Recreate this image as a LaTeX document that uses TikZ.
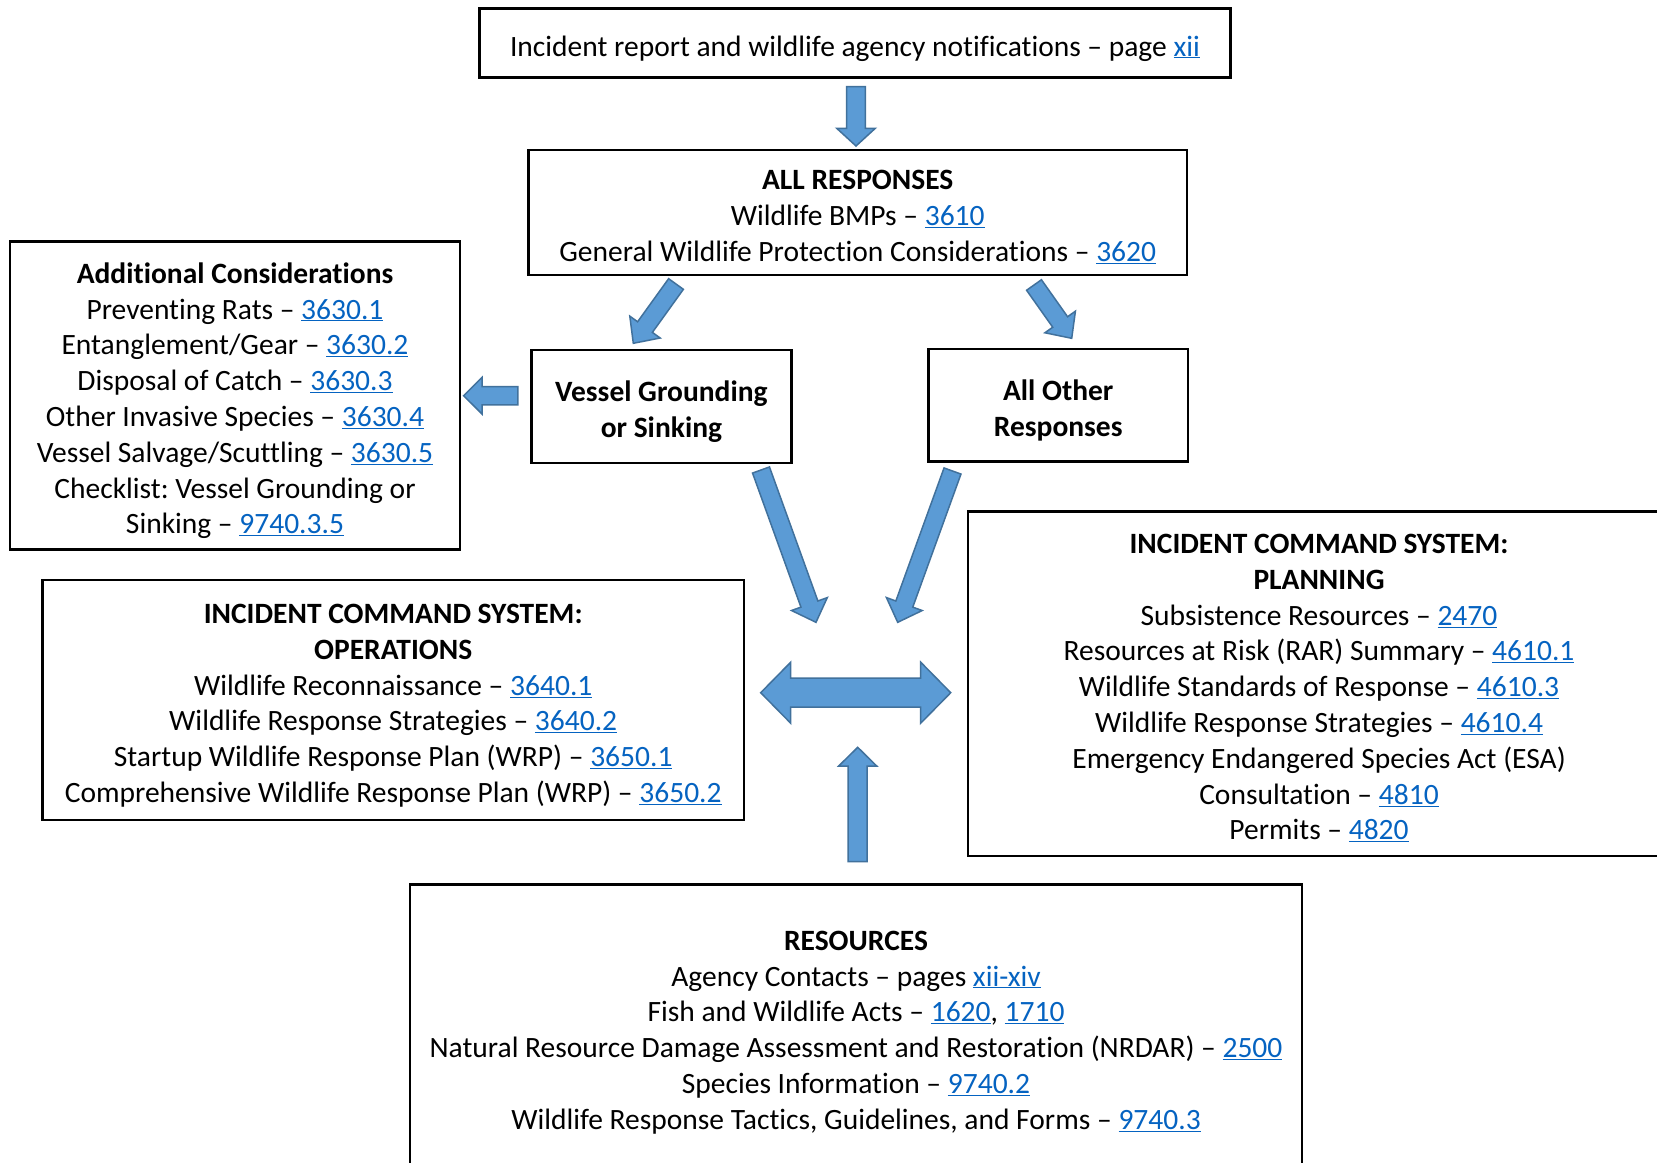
\documentclass[tikz,border=0pt]{standalone}
\usepackage{fontspec}
\setmainfont{Carlito}[Ligatures=NoCommon]
\usetikzlibrary{calc}
\definecolor{arrowfill}{HTML}{5B9BD5}
\definecolor{arrowline}{HTML}{41719C}
\definecolor{linkc}{HTML}{0563C1}
\frenchspacing
\newcommand\lnk[1]{\textcolor{linkc}{\underline{#1}}}
\newcommand\topstrut{\rule{0pt}{34pt}}
\newcommand\botstrut{\rule[-8pt]{0pt}{8pt}}
% block arrow: tail, tip, shaft half width, head half width, head length
\newcommand\barrow[5]{%
  \coordinate (hb) at ($(#2)!#5!(#1)$);
  \draw[blockarrow] ($(#1)!#3!90:(#2)$) -- ($(hb)!#3!90:(#2)$) -- ($(hb)!#4!90:(#2)$) -- (#2)
    -- ($(hb)!#4!-90:(#2)$) -- ($(hb)!#3!-90:(#2)$) -- ($(#1)!#3!-90:(#2)$) -- cycle;}
% double block arrow: end1, end2, shaft half width, head half width, head length
\newcommand\dblarrow[5]{%
  \coordinate (ha) at ($(#1)!#5!(#2)$);
  \coordinate (hb) at ($(#2)!#5!(#1)$);
  \draw[blockarrow] (#1) -- ($(ha)!#4!90:(#2)$) -- ($(ha)!#3!90:(#2)$) -- ($(hb)!#3!-90:(#1)$)
    -- ($(hb)!#4!-90:(#1)$) -- (#2) -- ($(hb)!#4!90:(#1)$) -- ($(hb)!#3!90:(#1)$)
    -- ($(ha)!#3!-90:(#2)$) -- ($(ha)!#4!-90:(#2)$) -- cycle;}
\begin{document}
\begin{tikzpicture}[x=1pt,y=-1pt,
  box/.style={draw=black, line width=2.5pt, align=center, inner sep=0pt,
    font=\fontsize{29.5}{35.8}\selectfont},
  blockarrow/.style={fill=arrowfill, draw=arrowline, line width=1.5pt, line join=miter}]
\useasboundingbox (0,0) rectangle (1657,1162);
\clip (0,0) rectangle (1657,1162);
\fill[white] (0,0) rectangle (1657,1162);

\node[box, minimum width=751pt, minimum height=69.4pt] (report) at (855,43)
  {\topstrut Incident report and wildlife agency notifications – page \lnk{xii}\botstrut};

\node[box, minimum width=658.5pt, minimum height=125pt] (allresp) at (857.7,212.5)
  {\topstrut\textbf{ALL RESPONSES}\\Wildlife BMPs – \lnk{3610}\\General Wildlife Protection Considerations – \lnk{3620}\botstrut};

\node[box, minimum width=450pt, minimum height=307.6pt] (addl) at (235,395.5)
  {\topstrut\textbf{Additional Considerations}\\Preventing Rats – \lnk{3630.1}\\Entanglement/Gear – \lnk{3630.2}\\Disposal of Catch – \lnk{3630.3}\\Other Invasive Species – \lnk{3630.4}\\Vessel Salvage/Scuttling – \lnk{3630.5}\\Checklist: Vessel Grounding or\\Sinking – \lnk{9740.3.5}\botstrut};

\node[box, minimum width=260pt, minimum height=113pt] (vessel) at (661.4,406.5)
  {\topstrut\textbf{Vessel Grounding}\\\textbf{or Sinking}\botstrut};

\node[box, minimum width=259.6pt, minimum height=112.3pt] (other) at (1058.2,405.2)
  {\topstrut\textbf{All Other}\\\textbf{Responses}\botstrut};

\node[box, minimum width=701.7pt, minimum height=240pt] (ops) at (393.2,700)
  {\topstrut\textbf{INCIDENT COMMAND SYSTEM:}\\\textbf{OPERATIONS}\\Wildlife Reconnaissance – \lnk{3640.1}\\Wildlife Response Strategies – \lnk{3640.2}\\Startup Wildlife Response Plan (WRP) – \lnk{3650.1}\\Comprehensive Wildlife Response Plan (WRP) – \lnk{3650.2}\botstrut};

\node[box, minimum width=702pt, minimum height=344.5pt] (plan) at (1319,683.75)
  {\topstrut\textbf{INCIDENT COMMAND SYSTEM:}\\\textbf{PLANNING}\\Subsistence Resources – \lnk{2470}\\Resources at Risk (RAR) Summary – \lnk{4610.1}\\Wildlife Standards of Response – \lnk{4610.3}\\Wildlife Response Strategies – \lnk{4610.4}\\Emergency Endangered Species Act (ESA)\\Consultation – \lnk{4810}\\Permits – \lnk{4820}\botstrut};

\node[box, minimum width=892pt, minimum height=284.5pt] (res) at (856,1026.7)
  {\topstrut\textbf{RESOURCES}\\Agency Contacts – pages \lnk{xii-xiv}\\Fish and Wildlife Acts – \lnk{1620}, \lnk{1710}\\Natural Resource Damage Assessment and Restoration (NRDAR) – \lnk{2500}\\Species Information – \lnk{9740.2}\\Wildlife Response Tactics, Guidelines, and Forms – \lnk{9740.3}\botstrut};

% arrow end points
\coordinate (r2aT) at (856,86.7);    \coordinate (r2aH) at (856,146);
\coordinate (a2vT) at (676,284);     \coordinate (a2vH) at (633.3,343.3);
\coordinate (a2oT) at (1034,285);    \coordinate (a2oH) at (1071.7,338.3);
\coordinate (v2aT) at (517.9,395.7); \coordinate (v2aH) at (463.6,395.7);
\coordinate (v2cT) at (761,470);     \coordinate (v2cH) at (816,622.3);
\coordinate (o2cT) at (952.5,471);   \coordinate (o2cH) at (897.7,622.3);
\coordinate (dblL) at (760.7,692.7); \coordinate (dblR) at (950.7,692.7);
\coordinate (r2cT) at (857.7,861.7); \coordinate (r2cH) at (857.7,747.3);

\barrow{r2aT}{r2aH}{9.3pt}{19.3pt}{17.7pt}
\barrow{a2vT}{a2vH}{9.1pt}{18.7pt}{20pt}
\barrow{a2oT}{a2oH}{9.1pt}{18.7pt}{20pt}
\barrow{v2aT}{v2aH}{9.2pt}{18.3pt}{18.4pt}
\barrow{v2cT}{v2cH}{9pt}{19pt}{19.4pt}
\barrow{o2cT}{o2cH}{9pt}{19pt}{19.4pt}
\dblarrow{dblL}{dblR}{14.5pt}{30.5pt}{30pt}
\barrow{r2cT}{r2cH}{9.5pt}{19pt}{18.7pt}
\end{tikzpicture}
\end{document}
